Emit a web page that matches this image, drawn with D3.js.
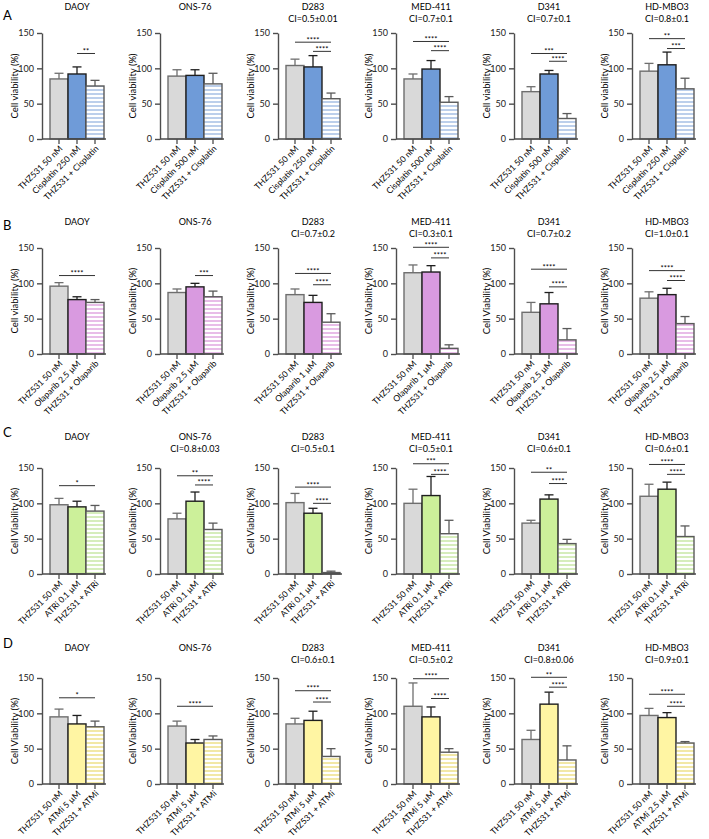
<!DOCTYPE html>
<html>
<head>
<meta charset="utf-8">
<script src="https://cdn.jsdelivr.net/npm/d3@7"></script>
<style>
body { margin: 0; background: #fff; }
svg { font-family: Lato, "Open Sans", sans-serif; }
</style>
</head>
<body>
<svg id="fig" width="709" height="839"></svg>
<script>
var cellLines = ['DAOY', 'ONS-76', 'D283', 'MED-411', 'D341', 'HD-MBO3']
var panelLetters = ['A', 'B', 'C', 'D']
var yTicks = [0, 50, 100, 150]
var firstLabel = 'THZ531 50 nM'

// A: THZ531 + cisplatin
var drugA = ['Cisplatin 250 nM', 'Cisplatin 500 nM', 'Cisplatin 250 nM', 'Cisplatin 500 nM', 'Cisplatin 500 nM', 'Cisplatin 250 nM']
var comboA = 'THZ531 + Cisplatin'
var yTitleA = ['Cell viability (%)', 'Cell viability (%)', 'Cell viability (%)', 'Cell viability (%)', 'Cell viability (%)', 'Cell viability (%)']
var ciA = ['', '', 'CI=0.5±0.01', 'CI=0.7±0.1', 'CI=0.7±0.1', 'CI=0.8±0.1']
var meanA = [[85, 92, 75], [89, 90, 78], [104, 102, 57], [85, 99, 52], [67, 92, 29], [96, 105, 71]]
var sdA = [[8, 10, 8], [9, 8, 15], [9, 16, 8], [7, 12, 8], [7, 5, 7], [11, 18, 15]]
var sigA = [
    [[1, 2, '**', 121]],
    [],
    [[0, 2, '****', 137], [1, 2, '****', 124]],
    [[0, 2, '****', 138], [1, 2, '****', 125]],
    [[0, 2, '***', 121], [1, 2, '****', 110]],
    [[0, 2, '**', 142], [1, 2, '***', 128]]
]

// B: THZ531 + olaparib
var drugB = ['Olaparib 2.5 µM', 'Olaparib 2.5 µM', 'Olaparib 1 µM', 'Olaparib 1 µM', 'Olaparib 2.5 µM', 'Olaparib 2.5 µM']
var comboB = 'THZ531 + Olaparib'
var yTitleB = ['Cell viability (%)', 'Cell Viability (%)', 'Cell Viability (%)', 'Cell Viability (%)', 'Cell Viability (%)', 'Cell Viability (%)']
var ciB = ['', '', 'CI=0.7±0.2', 'CI=0.3±0.1', 'CI=0.7±0.2', 'CI=1.0±0.1']
var meanB = [[96, 77, 73], [87, 95, 81], [84, 73, 45], [115, 116, 8], [59, 71, 20], [79, 84, 43]]
var sdB = [[5, 4, 4], [5, 5, 8], [8, 10, 12], [11, 9, 5], [14, 16, 16], [9, 9, 10]]
var sigB = [
    [[0, 2, '****', 111]],
    [[1, 2, '***', 111]],
    [[0, 2, '****', 114], [1, 2, '****', 98]],
    [[0, 2, '****', 151], [1, 2, '****', 136]],
    [[0, 2, '****', 120], [1, 2, '****', 95]],
    [[0, 2, '****', 118], [1, 2, '****', 104]]
]

// C: THZ531 + ATR inhibitor
var drugC = ['ATRi 0.1 µM', 'ATRi 0.1 µM', 'ATRi 0.1 µM', 'ATRi 0.1 µM', 'ATRi 0.1 µM', 'ATRi 0.1 µM']
var comboC = 'THZ531 + ATRi'
var yTitleC = ['Cell Viability (%)', 'Cell Viability (%)', 'Cell Viability (%)', 'Cell Viability (%)', 'Cell Viability (%)', 'Cell Viability (%)']
var ciC = ['', 'CI=0.8±0.03', 'CI=0.5±0.1', 'CI=0.5±0.1', 'CI=0.6±0.1', 'CI=0.6±0.1']
var meanC = [[98, 95, 89], [78, 103, 63], [101, 86, 2], [100, 111, 57], [72, 106, 43], [110, 120, 53]]
var sdC = [[9, 8, 8], [8, 13, 9], [13, 7, 2], [20, 27, 19], [4, 6, 6], [17, 10, 15]]
var sigC = [
    [[0, 2, '*', 125]],
    [[0, 2, '**', 139], [1, 2, '****', 126]],
    [[0, 2, '****', 123], [1, 2, '****', 100]],
    [[0, 2, '***', 156], [1, 2, '****', 141]],
    [[0, 2, '**', 144], [1, 2, '****', 128]],
    [[0, 2, '****', 155], [1, 2, '****', 141]]
]

// D: THZ531 + ATM inhibitor
var drugD = ['ATMi 5 µM', 'ATMi 5 µM', 'ATMi 5 µM', 'ATMi 5 µM', 'ATMi 5 µM', 'ATMi 2.5 µM']
var comboD = 'THZ531 + ATMi'
var yTitleD = ['Cell Viability (%)', 'Cell Viability (%)', 'Cell Viability (%)', 'Cell Viability (%)', 'Cell Viability (%)', 'Cell Viability (%)']
var ciD = ['', '', 'CI=0.6±0.1', 'CI=0.5±0.2', 'CI=0.8±0.06', 'CI=0.9±0.1']
var meanD = [[95, 85, 81], [82, 58, 63], [85, 90, 39], [110, 95, 45], [63, 113, 34], [97, 94, 58]]
var sdD = [[11, 12, 8], [7, 5, 5], [8, 13, 11], [33, 14, 5], [13, 17, 20], [10, 7, 2]]
var sigD = [
    [[0, 2, '*', 122]],
    [[0, 2, '****', 110]],
    [[0, 2, '****', 132], [1, 2, '****', 116]],
    [[0, 2, '****', 149], [1, 2, '****', 121]],
    [[0, 2, '**', 151], [1, 2, '****', 137]],
    [[0, 2, '****', 127], [1, 2, '****', 110]]
]

var rows = [
    {drug: drugA, combo: comboA, yTitle: yTitleA, ci: ciA, mean: meanA, sd: sdA, sig: sigA},
    {drug: drugB, combo: comboB, yTitle: yTitleB, ci: ciB, mean: meanB, sd: sdB, sig: sigB},
    {drug: drugC, combo: comboC, yTitle: yTitleC, ci: ciC, mean: meanC, sd: sdC, sig: sigC},
    {drug: drugD, combo: comboD, yTitle: yTitleD, ci: ciD, mean: meanD, sd: sdD, sig: sigD}
]

// colours per row: drug alone, stripe of the combination bar
var drugFill = ['#6f9bd8', '#d99ae0', '#ccf09a', '#fff5a3']
var stripeFill = ['#bccfeb', '#e8bde8', '#d6edbc', '#f2e8a6']
var greyFill = '#d9d9d9'
var barStroke = ['#6e6e6e', '#1e1e1e', '#5a5a5a']
var axisColor = '#4d4d4d'

// layout
var colX0 = 42, colStep = 118
var rowTop = [33, 248, 468, 678]
var plotH = 106
var titleOff = [23, 23, 28, 27]
var letterY = [20, 230, 437, 648]

var svg = d3.select('#fig')
var defs = svg.append('defs')

rows.forEach(function (row, r) {
    var pat = defs.append('pattern')
        .attr('id', 'stripe' + r)
        .attr('patternUnits', 'userSpaceOnUse')
        .attr('width', 4).attr('height', 4)
    pat.append('rect').attr('width', 4).attr('height', 4).attr('fill', '#fff')
    pat.append('rect').attr('width', 4).attr('height', 2).attr('fill', stripeFill[r])

    svg.append('text')
        .attr('x', 3).attr('y', letterY[r])
        .style('font-size', '13px')
        .text(panelLetters[r])

    cellLines.forEach(function (name, c) {
        var g = svg.append('g')
            .attr('transform', 'translate(' + (colX0 + c * colStep) + ',' + rowTop[r] + ')')
        var y = d3.scaleLinear().domain([0, 150]).range([plotH, 0])
        var x = d3.scaleBand().domain([0, 1, 2]).range([8, 62]).padding(0)
        var bw = x.bandwidth()
        var labels = [firstLabel, row.drug[c], row.combo]
        var fills = [greyFill, drugFill[r], 'url(#stripe' + r + ')']
        var vals = row.mean[c].map(function (m, i) { return {i: i, m: m, sd: row.sd[c][i]} })

        g.append('text')
            .attr('x', 35).attr('y', -titleOff[r])
            .attr('text-anchor', 'middle')
            .style('font-size', '9px')
            .text(name)
        if (row.ci[c]) {
            g.append('text')
                .attr('x', 35).attr('y', -titleOff[r] + 11.5)
                .attr('text-anchor', 'middle')
                .style('font-size', '9px')
                .text(row.ci[c])
        }

        g.selectAll('rect.bar')
            .data(vals)
            .enter()
            .append('rect')
            .attr('class', 'bar')
            .attr('x', function (d) { return x(d.i) })
            .attr('y', function (d) { return y(d.m) })
            .attr('width', bw)
            .attr('height', function (d) { return plotH - y(d.m) })
            .attr('fill', function (d) { return fills[d.i] })
            .attr('stroke', function (d) { return barStroke[d.i] })
            .attr('stroke-width', 1.4)

        var err = g.selectAll('g.err')
            .data(vals)
            .enter()
            .append('g')
            .attr('class', 'err')
            .attr('stroke', function (d) { return barStroke[d.i] })
            .attr('stroke-width', 1.3)
        err.append('line')
            .attr('x1', function (d) { return x(d.i) + bw / 2 })
            .attr('x2', function (d) { return x(d.i) + bw / 2 })
            .attr('y1', function (d) { return y(d.m) })
            .attr('y2', function (d) { return y(d.m + d.sd) })
        err.append('line')
            .attr('x1', function (d) { return x(d.i) + bw / 2 - 4.5 })
            .attr('x2', function (d) { return x(d.i) + bw / 2 + 4.5 })
            .attr('y1', function (d) { return y(d.m + d.sd) })
            .attr('y2', function (d) { return y(d.m + d.sd) })

        var yAxis = g.append('g')
            .call(d3.axisLeft(y).tickValues(yTicks).tickSize(5).tickSizeOuter(0).tickPadding(3))
        yAxis.selectAll('path, line').attr('stroke', axisColor).attr('stroke-width', 1.4)
        yAxis.selectAll('text').style('font-size', '9px').style('font-family', 'Lato, sans-serif').attr('fill', '#222')

        g.append('line')
            .attr('x1', 0).attr('x2', 64)
            .attr('y1', plotH).attr('y2', plotH)
            .attr('stroke', axisColor).attr('stroke-width', 1.4)
        g.selectAll('line.xtick')
            .data(vals)
            .enter()
            .append('line')
            .attr('class', 'xtick')
            .attr('x1', function (d) { return x(d.i) + bw / 2 })
            .attr('x2', function (d) { return x(d.i) + bw / 2 })
            .attr('y1', plotH).attr('y2', plotH + 5)
            .attr('stroke', axisColor).attr('stroke-width', 1.3)
        g.selectAll('text.xlab')
            .data(vals)
            .enter()
            .append('text')
            .attr('class', 'xlab')
            .attr('transform', function (d) {
                return 'translate(' + (x(d.i) + bw / 2 + 2) + ',' + (plotH + 8) + ') rotate(-45)'
            })
            .attr('text-anchor', 'end')
            .attr('dy', '0.35em')
            .style('font-size', '8.5px')
            .text(function (d) { return labels[d.i] })

        g.append('text')
            .attr('transform', 'translate(-27,' + (plotH / 2) + ') rotate(-90)')
            .attr('text-anchor', 'middle')
            .attr('dy', '0.35em')
            .style('font-size', '9.5px')
            .text(row.yTitle[c])

        var sig = g.selectAll('g.sig')
            .data(row.sig[c])
            .enter()
            .append('g')
            .attr('class', 'sig')
        sig.append('line')
            .attr('x1', function (d) { return x(d[0]) + bw / 2 })
            .attr('x2', function (d) { return x(d[1]) + bw / 2 })
            .attr('y1', function (d) { return y(d[3]) })
            .attr('y2', function (d) { return y(d[3]) })
            .attr('stroke', '#333').attr('stroke-width', 1)
        sig.append('text')
            .attr('x', function (d) { return (x(d[0]) + x(d[1])) / 2 + bw / 2 })
            .attr('y', function (d) { return y(d[3]) + 0.5 })
            .attr('text-anchor', 'middle')
            .style('font-size', '7.5px')
            .text(function (d) { return d[2] })
    })
})
</script>
</body>
</html>
